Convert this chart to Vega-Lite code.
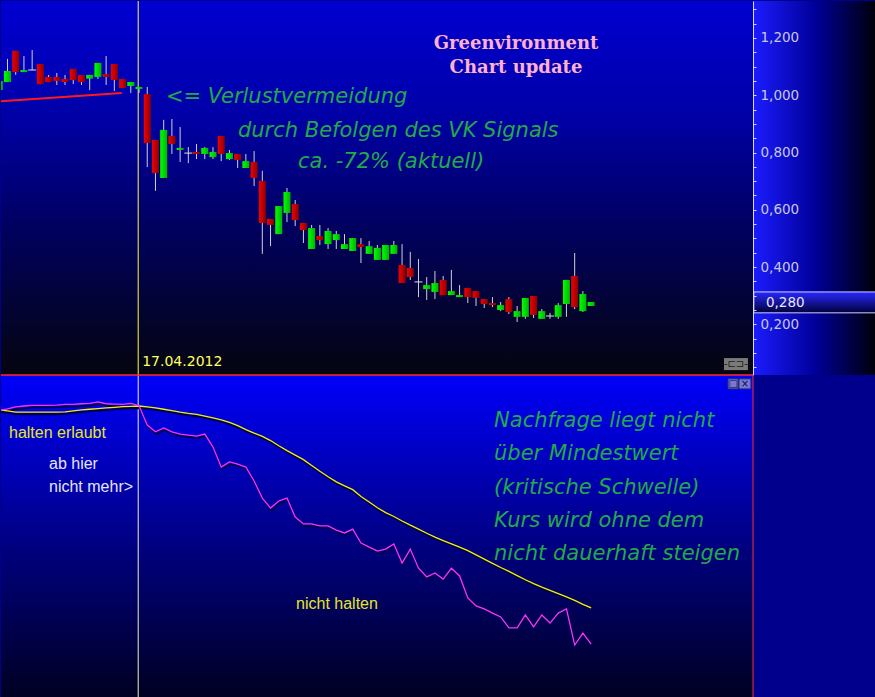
{
  "$schema": "https://vega.github.io/schema/vega-lite/v6.json",
  "autosize": {"type": "pad"},
  "padding": 0,
  "spacing": 0,
  "bounds": "flush",
  "background": "#00008c",
  "datasets": {
    "candles": [
      {"i":0,"o":1.018,"h":1.050,"l":1.018,"c":1.050},
      {"i":1,"o":1.046,"h":1.127,"l":1.046,"c":1.085},
      {"i":2,"o":1.155,"h":1.155,"l":1.071,"c":1.081},
      {"i":3,"o":1.081,"h":1.137,"l":1.081,"c":1.088},
      {"i":4,"o":1.088,"h":1.158,"l":1.088,"c":1.088},
      {"i":5,"o":1.109,"h":1.109,"l":1.039,"c":1.039},
      {"i":6,"o":1.064,"h":1.071,"l":1.046,"c":1.046},
      {"i":7,"o":1.064,"h":1.078,"l":1.036,"c":1.050},
      {"i":8,"o":1.057,"h":1.071,"l":1.036,"c":1.046},
      {"i":9,"o":1.092,"h":1.092,"l":1.039,"c":1.053},
      {"i":10,"o":1.071,"h":1.071,"l":1.036,"c":1.046},
      {"i":11,"o":1.058,"h":1.071,"l":1.018,"c":1.071},
      {"i":12,"o":1.064,"h":1.113,"l":1.057,"c":1.113},
      {"i":13,"o":1.074,"h":1.137,"l":1.036,"c":1.064},
      {"i":14,"o":1.109,"h":1.109,"l":1.015,"c":1.053},
      {"i":15,"o":1.057,"h":1.057,"l":1.025,"c":1.025},
      {"i":16,"o":1.032,"h":1.046,"l":1.008,"c":1.046},
      {"i":17,"o":1.022,"h":1.029,"l":1.008,"c":1.029},
      {"i":18,"o":1.004,"h":1.029,"l":0.749,"c":0.833},
      {"i":19,"o":0.844,"h":0.844,"l":0.666,"c":0.728},
      {"i":20,"o":0.711,"h":0.914,"l":0.711,"c":0.879},
      {"i":21,"o":0.858,"h":0.917,"l":0.795,"c":0.830},
      {"i":22,"o":0.809,"h":0.889,"l":0.767,"c":0.816},
      {"i":23,"o":0.798,"h":0.819,"l":0.763,"c":0.798},
      {"i":24,"o":0.802,"h":0.830,"l":0.777,"c":0.795},
      {"i":25,"o":0.795,"h":0.819,"l":0.777,"c":0.816},
      {"i":26,"o":0.784,"h":0.819,"l":0.777,"c":0.802},
      {"i":27,"o":0.858,"h":0.858,"l":0.770,"c":0.795},
      {"i":28,"o":0.777,"h":0.809,"l":0.774,"c":0.798},
      {"i":29,"o":0.795,"h":0.795,"l":0.746,"c":0.774},
      {"i":30,"o":0.746,"h":0.795,"l":0.746,"c":0.770},
      {"i":31,"o":0.767,"h":0.805,"l":0.683,"c":0.711},
      {"i":32,"o":0.701,"h":0.736,"l":0.446,"c":0.554},
      {"i":33,"o":0.568,"h":0.568,"l":0.473,"c":0.547},
      {"i":34,"o":0.515,"h":0.613,"l":0.515,"c":0.613},
      {"i":35,"o":0.589,"h":0.676,"l":0.557,"c":0.662},
      {"i":36,"o":0.620,"h":0.634,"l":0.543,"c":0.564},
      {"i":37,"o":0.554,"h":0.554,"l":0.484,"c":0.529},
      {"i":38,"o":0.463,"h":0.547,"l":0.463,"c":0.536},
      {"i":39,"o":0.508,"h":0.547,"l":0.477,"c":0.494},
      {"i":40,"o":0.480,"h":0.536,"l":0.463,"c":0.526},
      {"i":41,"o":0.494,"h":0.526,"l":0.463,"c":0.515},
      {"i":42,"o":0.463,"h":0.515,"l":0.463,"c":0.480},
      {"i":43,"o":0.456,"h":0.501,"l":0.456,"c":0.501},
      {"i":44,"o":0.480,"h":0.501,"l":0.414,"c":0.470},
      {"i":45,"o":0.446,"h":0.491,"l":0.446,"c":0.473},
      {"i":46,"o":0.425,"h":0.477,"l":0.425,"c":0.467},
      {"i":47,"o":0.425,"h":0.477,"l":0.425,"c":0.477},
      {"i":48,"o":0.446,"h":0.491,"l":0.446,"c":0.477},
      {"i":49,"o":0.407,"h":0.480,"l":0.344,"c":0.344},
      {"i":50,"o":0.397,"h":0.453,"l":0.355,"c":0.365},
      {"i":51,"o":0.348,"h":0.428,"l":0.295,"c":0.348},
      {"i":52,"o":0.323,"h":0.365,"l":0.285,"c":0.337},
      {"i":53,"o":0.313,"h":0.386,"l":0.288,"c":0.344},
      {"i":54,"o":0.355,"h":0.369,"l":0.302,"c":0.302},
      {"i":55,"o":0.302,"h":0.390,"l":0.302,"c":0.316},
      {"i":56,"o":0.295,"h":0.337,"l":0.295,"c":0.302},
      {"i":57,"o":0.327,"h":0.327,"l":0.274,"c":0.295},
      {"i":58,"o":0.316,"h":0.316,"l":0.264,"c":0.292},
      {"i":59,"o":0.288,"h":0.288,"l":0.257,"c":0.271},
      {"i":60,"o":0.274,"h":0.295,"l":0.260,"c":0.267},
      {"i":61,"o":0.250,"h":0.278,"l":0.246,"c":0.267},
      {"i":62,"o":0.288,"h":0.295,"l":0.236,"c":0.243},
      {"i":63,"o":0.226,"h":0.264,"l":0.208,"c":0.246},
      {"i":64,"o":0.226,"h":0.292,"l":0.219,"c":0.292},
      {"i":65,"o":0.299,"h":0.299,"l":0.222,"c":0.233},
      {"i":66,"o":0.219,"h":0.253,"l":0.219,"c":0.246},
      {"i":67,"o":0.229,"h":0.240,"l":0.219,"c":0.229},
      {"i":68,"o":0.226,"h":0.274,"l":0.219,"c":0.267},
      {"i":69,"o":0.271,"h":0.355,"l":0.226,"c":0.355},
      {"i":70,"o":0.369,"h":0.449,"l":0.253,"c":0.260},
      {"i":71,"o":0.246,"h":0.316,"l":0.243,"c":0.306},
      {"i":72,"o":0.264,"h":0.278,"l":0.264,"c":0.278}
    ],
    "indicator": [
      {"i":0,"d":89.0,"s":89.2},{"i":1,"d":89.5,"s":88.9},{"i":2,"d":90.1,"s":88.5},
      {"i":3,"d":90.4,"s":88.5},{"i":4,"d":90.6,"s":88.5},{"i":5,"d":90.6,"s":88.5},
      {"i":6,"d":90.6,"s":88.5},{"i":7,"d":90.7,"s":88.5},{"i":8,"d":90.9,"s":88.6},
      {"i":9,"d":90.9,"s":88.9},{"i":10,"d":91.1,"s":89.2},{"i":11,"d":91.2,"s":89.4},
      {"i":12,"d":91.7,"s":89.6},{"i":13,"d":91.1,"s":89.8},{"i":14,"d":91.0,"s":90.0},
      {"i":15,"d":90.9,"s":90.2},{"i":16,"d":91.2,"s":90.3},{"i":17,"d":90.5,"s":90.4},
      {"i":18,"d":84.5,"s":90.1},{"i":19,"d":82.4,"s":89.8},{"i":20,"d":83.6,"s":89.4},
      {"i":21,"d":82.4,"s":89.0},{"i":22,"d":81.7,"s":88.5},{"i":23,"d":81.4,"s":88.1},
      {"i":24,"d":81.1,"s":87.8},{"i":25,"d":81.7,"s":87.3},{"i":26,"d":77.7,"s":86.7},
      {"i":27,"d":71.5,"s":86.1},{"i":28,"d":73.1,"s":85.3},{"i":29,"d":72.4,"s":84.3},
      {"i":30,"d":71.5,"s":83.1},{"i":31,"d":67.2,"s":82.0},{"i":32,"d":61.9,"s":81.0},
      {"i":33,"d":58.8,"s":79.7},{"i":34,"d":61.0,"s":78.1},{"i":35,"d":61.9,"s":76.6},
      {"i":36,"d":56.0,"s":75.2},{"i":37,"d":53.9,"s":73.8},{"i":38,"d":53.9,"s":72.0},
      {"i":39,"d":53.3,"s":70.2},{"i":40,"d":53.3,"s":68.5},{"i":41,"d":52.0,"s":66.9},
      {"i":42,"d":51.1,"s":65.7},{"i":43,"d":52.3,"s":64.5},{"i":44,"d":48.0,"s":62.4},
      {"i":45,"d":46.7,"s":60.7},{"i":46,"d":45.5,"s":58.9},{"i":47,"d":46.1,"s":57.4},
      {"i":48,"d":47.7,"s":56.2},{"i":49,"d":41.8,"s":54.8},{"i":50,"d":46.1,"s":53.5},
      {"i":51,"d":40.2,"s":52.3},{"i":52,"d":37.5,"s":51.0},{"i":53,"d":38.7,"s":49.8},
      {"i":54,"d":36.8,"s":48.7},{"i":55,"d":40.2,"s":47.7},{"i":56,"d":37.8,"s":46.7},
      {"i":57,"d":31.0,"s":45.6},{"i":58,"d":28.5,"s":44.3},{"i":59,"d":27.6,"s":43.0},
      {"i":60,"d":26.3,"s":41.7},{"i":61,"d":25.1,"s":40.4},{"i":62,"d":21.7,"s":39.2},
      {"i":63,"d":21.7,"s":37.9},{"i":64,"d":25.7,"s":36.6},{"i":65,"d":22.0,"s":35.4},
      {"i":66,"d":25.7,"s":34.3},{"i":67,"d":23.2,"s":33.3},{"i":68,"d":26.3,"s":32.3},
      {"i":69,"d":27.6,"s":31.3},{"i":70,"d":16.4,"s":30.2},{"i":71,"d":20.1,"s":29.0},
      {"i":72,"d":16.7,"s":27.9}
    ],
    "trend": [{"i":0.2,"p":0.979},{"i":14.9,"p":1.008}],
    "signal": [{"i":16.9,"p":0.068,"date":"17.04.2012"}],
    "strip": [{"i":91.69,"i2":106.7,"p":0.0,"p2":1.4}],
    "last": [{"i":91.8,"i2":106.7,"p":0.313,"p2":0.240,"ti":93.27,"tp":0.276,"label":"0,280"}],
    "plug": [{"i":88.17,"i2":91.08,"p":0.082,"p2":0.040,"ti":89.62,"tp":0.061,"g":"-⊏⊐-"}],
    "frame": [{"i":91.69,"v":100}],
    "titleNotes": [
      {"i":62.86,"p":1.179,"t":"Greenvironment"},
      {"i":62.86,"p":1.095,"t":"Chart update"}
    ],
    "topNotes": [
      {"i":20.28,"p":0.994,"t":"<= Verlustvermeidung"},
      {"i":29.04,"p":0.875,"t":"durch Befolgen des VK Signals"},
      {"i":36.34,"p":0.767,"t":"ca. -72% (aktuell)"}
    ],
    "bottomNotes": [
      {"i":60.19,"v":85.8,"t":"Nachfrage liegt nicht"},
      {"i":60.19,"v":75.5,"t":"über Mindestwert"},
      {"i":60.19,"v":65.0,"t":"(kritische Schwelle)"},
      {"i":60.19,"v":54.8,"t":"Kurs wird ohne dem"},
      {"i":60.19,"v":44.6,"t":"nicht dauerhaft steigen"}
    ],
    "holdNotes": [
      {"i":1.18,"v":82.0,"t":"halten erlaubt"},
      {"i":36.1,"v":29.1,"t":"nicht halten"}
    ],
    "whiteNotes": [
      {"i":6.05,"v":72.4,"t":"ab hier"},
      {"i":6.05,"v":65.3,"t":"nicht mehr>"}
    ],
    "buttons": [
      {"i":88.66,"i2":89.88,"v":98.8,"v2":95.7,"ic":89.27,"vc":97.3,"g":"□"},
      {"i":89.99,"i2":91.43,"v":98.8,"v2":95.7,"ic":90.71,"vc":97.3,"g":"×"}
    ]
  },
  "resolve": {"scale": {"x": "independent", "y": "independent"}},
  "vconcat": [
    {
      "width": 875,
      "height": 374,
      "view": {
        "stroke": null,
        "fill": {"gradient": "linear", "x1": 0, "y1": 0, "x2": 0, "y2": 1,
          "stops": [
            {"offset": 0, "color": "#0000d2"},
            {"offset": 0.3, "color": "#0000a8"},
            {"offset": 0.6, "color": "#000060"},
            {"offset": 1, "color": "#05050f"}
          ]}
      },
      "resolve": {"axis": {"y": "independent"}},
      "layer": [
        {
          "data": {"name": "strip"},
          "mark": {"type": "rect", "clip": true,
            "color": {"gradient": "linear", "x1": 0, "y1": 0, "x2": 1, "y2": 0,
              "stops": [
                {"offset": 0, "color": "#1c1cff"},
                {"offset": 0.5, "color": "#00009a"},
                {"offset": 1, "color": "#000008"}
              ]}},
          "encoding": {
            "x": {"field": "i", "type": "quantitative", "scale": {"domain": [0.209, 106.66]}, "axis": null},
            "x2": {"field": "i2"},
            "y": {"field": "p", "type": "quantitative", "scale": {"domain": [0.0229, 1.3292]}, "axis": null},
            "y2": {"field": "p2"}
          }
        },
        {
          "data": {"name": "trend"},
          "mark": {"type": "line", "color": "#ff1a1a", "strokeWidth": 2, "clip": true},
          "encoding": {
            "x": {"field": "i", "type": "quantitative", "scale": {"domain": [0.209, 106.66]}, "axis": null},
            "y": {"field": "p", "type": "quantitative", "scale": {"domain": [0.0229, 1.3292]}, "axis": null}
          }
        },
        {
          "data": {"name": "signal"},
          "mark": {"type": "rule", "color": "#ffff40", "strokeWidth": 1},
          "encoding": {
            "x": {"field": "i", "type": "quantitative", "scale": {"domain": [0.209, 106.66]}, "axis": null}
          }
        },
        {
          "data": {"name": "candles"},
          "mark": {"type": "rule", "color": "#d0d0d0", "strokeWidth": 1, "clip": true},
          "encoding": {
            "x": {"field": "i", "type": "quantitative", "scale": {"domain": [0.209, 106.66]}, "axis": null},
            "y": {
              "field": "h", "type": "quantitative",
              "scale": {"domain": [0.0229, 1.3292]},
              "axis": {
                "orient": "right",
                "offset": -123,
                "title": null,
                "grid": false,
                "zindex": 2,
                "values": [0.05,0.1,0.15,0.2,0.25,0.3,0.35,0.4,0.45,0.5,0.55,0.6,0.65,0.7,0.75,0.8,0.85,0.9,0.95,1.0,1.05,1.1,1.15,1.2,1.25,1.3],
                "labelExpr": "abs(datum.value*5 - round(datum.value*5)) < 0.001 ? replace(format(datum.value, '.3f'), '.', ',') : ''",
                "labelOverlap": false,
                "labelFont": "DejaVu Sans",
                "labelFontSize": 13.5,
                "labelColor": "#c8c8e6",
                "labelPadding": 4,
                "tickSize": 3,
                "tickColor": "#d0d0ff",
                "domainColor": "#d8d8ff"
              }
            },
            "y2": {"field": "l"}
          }
        },
        {
          "data": {"name": "candles"},
          "transform": [{"filter": "datum.c > datum.o"}],
          "mark": {"type": "bar", "width": 7, "clip": true,
            "color": {"gradient": "linear", "x1": 0, "y1": 0, "x2": 1, "y2": 0,
              "stops": [
                {"offset": 0, "color": "#00ff00"},
                {"offset": 1, "color": "#00b400"}
              ]}},
          "encoding": {
            "x": {"field": "i", "type": "quantitative", "scale": {"domain": [0.209, 106.66]}, "axis": null},
            "y": {"field": "o", "type": "quantitative", "scale": {"domain": [0.0229, 1.3292]}, "axis": null},
            "y2": {"field": "c"}
          }
        },
        {
          "data": {"name": "candles"},
          "transform": [{"filter": "datum.c < datum.o"}],
          "mark": {"type": "bar", "width": 7, "clip": true,
            "color": {"gradient": "linear", "x1": 0, "y1": 0, "x2": 1, "y2": 0,
              "stops": [
                {"offset": 0, "color": "#f00000"},
                {"offset": 1, "color": "#900000"}
              ]}},
          "encoding": {
            "x": {"field": "i", "type": "quantitative", "scale": {"domain": [0.209, 106.66]}, "axis": null},
            "y": {"field": "o", "type": "quantitative", "scale": {"domain": [0.0229, 1.3292]}, "axis": null},
            "y2": {"field": "c"}
          }
        },
        {
          "data": {"name": "candles"},
          "transform": [{"filter": "datum.c == datum.o"}],
          "mark": {"type": "tick", "orient": "horizontal", "size": 8, "thickness": 1, "color": "#e0e0e0", "opacity": 1},
          "encoding": {
            "x": {"field": "i", "type": "quantitative", "scale": {"domain": [0.209, 106.66]}, "axis": null},
            "y": {"field": "o", "type": "quantitative", "scale": {"domain": [0.0229, 1.3292]}, "axis": null}
          }
        },
        {
          "data": {"name": "titleNotes"},
          "mark": {"type": "text", "align": "center", "baseline": "middle", "font": "DejaVu Serif", "fontWeight": "bold", "fontSize": 18, "color": "#ffb0cc"},
          "encoding": {
            "x": {"field": "i", "type": "quantitative", "scale": {"domain": [0.209, 106.66]}, "axis": null},
            "y": {"field": "p", "type": "quantitative", "scale": {"domain": [0.0229, 1.3292]}, "axis": null},
            "text": {"field": "t"}
          }
        },
        {
          "data": {"name": "topNotes"},
          "mark": {"type": "text", "align": "left", "baseline": "middle", "font": "DejaVu Sans", "fontStyle": "italic", "fontSize": 21, "color": "#22aa48"},
          "encoding": {
            "x": {"field": "i", "type": "quantitative", "scale": {"domain": [0.209, 106.66]}, "axis": null},
            "y": {"field": "p", "type": "quantitative", "scale": {"domain": [0.0229, 1.3292]}, "axis": null},
            "text": {"field": "t"}
          }
        },
        {
          "data": {"name": "signal"},
          "mark": {"type": "text", "align": "left", "baseline": "middle", "dx": 4, "font": "DejaVu Sans", "fontSize": 14, "color": "#ffff60"},
          "encoding": {
            "x": {"field": "i", "type": "quantitative", "scale": {"domain": [0.209, 106.66]}, "axis": null},
            "y": {"field": "p", "type": "quantitative", "scale": {"domain": [0.0229, 1.3292]}, "axis": null},
            "text": {"field": "date"}
          }
        },
        {
          "data": {"name": "last"},
          "mark": {"type": "rect", "stroke": "#d0d0ff", "strokeWidth": 1,
            "color": {"gradient": "linear", "x1": 0, "y1": 0, "x2": 0, "y2": 1,
              "stops": [
                {"offset": 0, "color": "#2828ff"},
                {"offset": 1, "color": "#000038"}
              ]}},
          "encoding": {
            "x": {"field": "i", "type": "quantitative", "scale": {"domain": [0.209, 106.66]}, "axis": null},
            "x2": {"field": "i2"},
            "y": {"field": "p", "type": "quantitative", "scale": {"domain": [0.0229, 1.3292]}, "axis": null},
            "y2": {"field": "p2"}
          }
        },
        {
          "data": {"name": "last"},
          "mark": {"type": "text", "align": "left", "baseline": "middle", "font": "DejaVu Sans", "fontSize": 13.5, "color": "#e8e8ff"},
          "encoding": {
            "x": {"field": "ti", "type": "quantitative", "scale": {"domain": [0.209, 106.66]}, "axis": null},
            "y": {"field": "tp", "type": "quantitative", "scale": {"domain": [0.0229, 1.3292]}, "axis": null},
            "text": {"field": "label"}
          }
        },
        {
          "data": {"name": "plug"},
          "mark": {"type": "rect", "color": "#7a7a7a"},
          "encoding": {
            "x": {"field": "i", "type": "quantitative", "scale": {"domain": [0.209, 106.66]}, "axis": null},
            "x2": {"field": "i2"},
            "y": {"field": "p", "type": "quantitative", "scale": {"domain": [0.0229, 1.3292]}, "axis": null},
            "y2": {"field": "p2"}
          }
        },
        {
          "data": {"name": "plug"},
          "mark": {"type": "text", "align": "center", "baseline": "middle", "font": "DejaVu Sans", "fontSize": 10, "color": "#1a1a1a"},
          "encoding": {
            "x": {"field": "ti", "type": "quantitative", "scale": {"domain": [0.209, 106.66]}, "axis": null},
            "y": {"field": "tp", "type": "quantitative", "scale": {"domain": [0.0229, 1.3292]}, "axis": null},
            "text": {"field": "g"}
          }
        }
      ]
    },
    {
      "width": 752,
      "height": 323,
      "view": {
        "stroke": null,
        "fill": {"gradient": "linear", "x1": 0, "y1": 0, "x2": 0, "y2": 1,
          "stops": [
            {"offset": 0, "color": "#0000fa"},
            {"offset": 0.55, "color": "#00007c"},
            {"offset": 1, "color": "#000022"}
          ]}
      },
      "layer": [
        {
          "data": {"name": "signal"},
          "mark": {"type": "rule", "color": "#f0f0c0", "strokeWidth": 1},
          "encoding": {
            "x": {"field": "i", "type": "quantitative", "scale": {"domain": [0.209, 91.69]}, "axis": null}
          }
        },
        {
          "data": {"name": "frame"},
          "mark": {"type": "rule", "color": "#ff2a2a", "strokeWidth": 1.5},
          "encoding": {
            "y": {"field": "v", "type": "quantitative", "scale": {"domain": [0, 100]}, "axis": null}
          }
        },
        {
          "data": {"name": "frame"},
          "mark": {"type": "rule", "color": "#ff2a2a", "strokeWidth": 1},
          "encoding": {
            "x": {"field": "i", "type": "quantitative", "scale": {"domain": [0.209, 91.69]}, "axis": null}
          }
        },
        {
          "data": {"name": "indicator"},
          "mark": {"type": "line", "color": "#000048", "strokeWidth": 2, "xOffset": 1, "yOffset": 2, "clip": true},
          "encoding": {
            "x": {"field": "i", "type": "quantitative", "scale": {"domain": [0.209, 91.69]}, "axis": null},
            "y": {"field": "s", "type": "quantitative", "scale": {"domain": [0, 100]}, "axis": null}
          }
        },
        {
          "data": {"name": "indicator"},
          "mark": {"type": "line", "color": "#000048", "strokeWidth": 2, "xOffset": 1, "yOffset": 2, "clip": true},
          "encoding": {
            "x": {"field": "i", "type": "quantitative", "scale": {"domain": [0.209, 91.69]}, "axis": null},
            "y": {"field": "d", "type": "quantitative", "scale": {"domain": [0, 100]}, "axis": null}
          }
        },
        {
          "data": {"name": "indicator"},
          "mark": {"type": "line", "color": "#f2f200", "strokeWidth": 1.3, "clip": true},
          "encoding": {
            "x": {"field": "i", "type": "quantitative", "scale": {"domain": [0.209, 91.69]}, "axis": null},
            "y": {"field": "s", "type": "quantitative", "scale": {"domain": [0, 100]}, "axis": null}
          }
        },
        {
          "data": {"name": "indicator"},
          "mark": {"type": "line", "color": "#ff30ff", "strokeWidth": 1.3, "clip": true},
          "encoding": {
            "x": {"field": "i", "type": "quantitative", "scale": {"domain": [0.209, 91.69]}, "axis": null},
            "y": {"field": "d", "type": "quantitative", "scale": {"domain": [0, 100]}, "axis": null}
          }
        },
        {
          "data": {"name": "bottomNotes"},
          "mark": {"type": "text", "align": "left", "baseline": "middle", "font": "DejaVu Sans", "fontStyle": "italic", "fontSize": 21, "color": "#22aa48"},
          "encoding": {
            "x": {"field": "i", "type": "quantitative", "scale": {"domain": [0.209, 91.69]}, "axis": null},
            "y": {"field": "v", "type": "quantitative", "scale": {"domain": [0, 100]}, "axis": null},
            "text": {"field": "t"}
          }
        },
        {
          "data": {"name": "holdNotes"},
          "mark": {"type": "text", "align": "left", "baseline": "middle", "font": "Liberation Sans", "fontSize": 16, "color": "#e6e628"},
          "encoding": {
            "x": {"field": "i", "type": "quantitative", "scale": {"domain": [0.209, 91.69]}, "axis": null},
            "y": {"field": "v", "type": "quantitative", "scale": {"domain": [0, 100]}, "axis": null},
            "text": {"field": "t"}
          }
        },
        {
          "data": {"name": "whiteNotes"},
          "mark": {"type": "text", "align": "left", "baseline": "middle", "font": "Liberation Sans", "fontSize": 16, "color": "#e6e6ff"},
          "encoding": {
            "x": {"field": "i", "type": "quantitative", "scale": {"domain": [0.209, 91.69]}, "axis": null},
            "y": {"field": "v", "type": "quantitative", "scale": {"domain": [0, 100]}, "axis": null},
            "text": {"field": "t"}
          }
        },
        {
          "data": {"name": "buttons"},
          "mark": {"type": "rect", "color": "#7878d8", "stroke": "#303070", "strokeWidth": 1},
          "encoding": {
            "x": {"field": "i", "type": "quantitative", "scale": {"domain": [0.209, 91.69]}, "axis": null},
            "x2": {"field": "i2"},
            "y": {"field": "v", "type": "quantitative", "scale": {"domain": [0, 100]}, "axis": null},
            "y2": {"field": "v2"}
          }
        },
        {
          "data": {"name": "buttons"},
          "mark": {"type": "text", "align": "center", "baseline": "middle", "font": "DejaVu Sans", "fontSize": 10, "color": "#101030"},
          "encoding": {
            "x": {"field": "ic", "type": "quantitative", "scale": {"domain": [0.209, 91.69]}, "axis": null},
            "y": {"field": "vc", "type": "quantitative", "scale": {"domain": [0, 100]}, "axis": null},
            "text": {"field": "g"}
          }
        }
      ]
    }
  ],
  "config": {
    "view": {"stroke": null},
    "axis": {"grid": false},
    "scale": {"continuousPadding": 0}
  }
}
